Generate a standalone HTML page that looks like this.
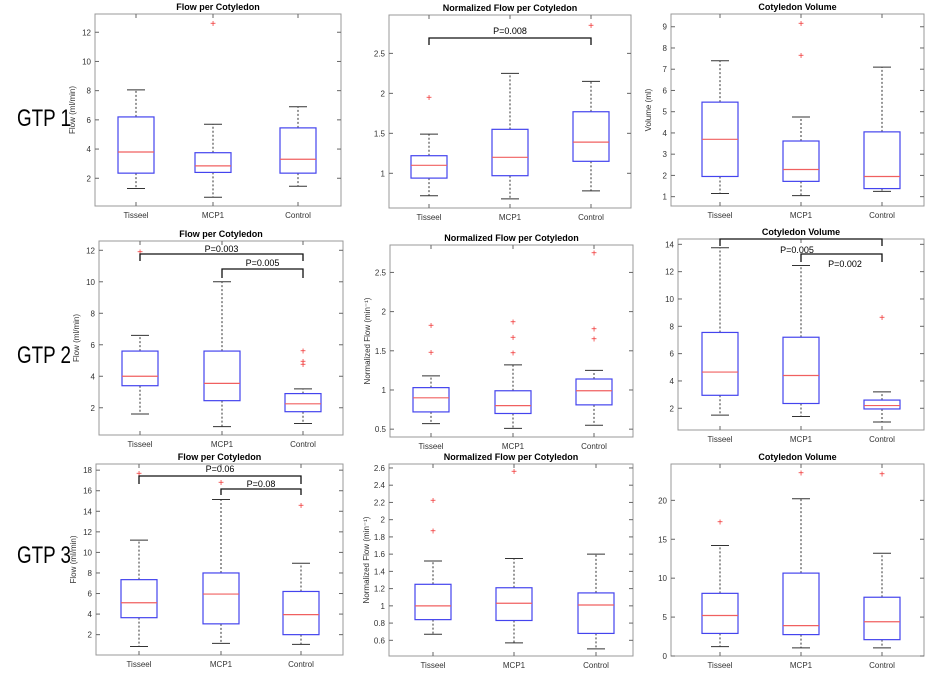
<!DOCTYPE html>
<html><head><meta charset="utf-8">
<style>
body{margin:0;background:#fff;}
svg{display:block;font-family:"Liberation Sans",sans-serif;}
</style></head>
<body>
<svg id="fig" width="936" height="678" viewBox="0 0 936 678" xmlns="http://www.w3.org/2000/svg">
<text x="17" y="126" font-size="24" textLength="54" lengthAdjust="spacingAndGlyphs">GTP 1</text>
<text x="17" y="363" font-size="24" textLength="54" lengthAdjust="spacingAndGlyphs">GTP 2</text>
<text x="17" y="563" font-size="24" textLength="54" lengthAdjust="spacingAndGlyphs">GTP 3</text>
</svg>
<script>
const categories=["Tisseel","MCP1","Control"];
const panelTitles=["Flow per Cotyledon","Normalized Flow per Cotyledon","Cotyledon Volume","Flow per Cotyledon","Normalized Flow per Cotyledon","Cotyledon Volume","Flow per Cotyledon","Normalized Flow per Cotyledon","Cotyledon Volume"];
const yTitles=["Flow (ml/min)","","Volume (ml)","Flow (ml/min)","Normalized Flow (min\u207B\u00B9)","","Flow (ml/min)","Normalized Flow (min\u207B\u00B9)",""];
const whiskerLo=[[1.3,0.7,1.45],[0.72,0.68,0.78],[1.15,1.05,1.25],[1.6,0.8,1.0],[0.57,0.51,0.55],[1.5,1.4,1.0],[0.85,1.15,1.05],[0.67,0.57,0.5],[1.2,1.05,1.05]];
const q1=[[2.35,2.4,2.35],[0.94,0.97,1.15],[1.95,1.72,1.38],[3.4,2.45,1.75],[0.72,0.7,0.81],[2.95,2.35,1.95],[3.65,3.05,2.0],[0.84,0.83,0.68],[2.9,2.75,2.1]];
const medians=[[3.8,2.85,3.3],[1.1,1.2,1.39],[3.7,2.28,1.95],[4.0,3.55,2.25],[0.9,0.8,0.99],[4.65,4.4,2.2],[5.1,5.95,3.95],[1.0,1.03,1.01],[5.2,3.9,4.4]];
const q3=[[6.2,3.75,5.45],[1.22,1.55,1.77],[5.45,3.62,4.05],[5.6,5.6,2.9],[1.03,0.99,1.14],[7.55,7.2,2.6],[7.35,8.0,6.2],[1.25,1.21,1.15],[8.05,10.65,7.55]];
const whiskerHi=[[8.05,5.7,6.9],[1.49,2.25,2.15],[7.4,4.75,7.1],[6.6,10,3.2],[1.18,1.32,1.25],[13.75,12.45,3.2],[11.2,15.15,8.95],[1.52,1.55,1.6],[14.2,20.2,13.2]];
const outliers=[[[],[12.6],[]],[[1.95],[],[2.85]],[[],[9.15,7.65],[]],[[11.9],[],[5.6,4.95,4.75]],[[1.82,1.48],[1.87,1.67,1.47],[2.75,1.78,1.65]],[[],[],[8.65]],[[17.7],[16.8],[14.55]],[[2.22,1.87],[2.56],[]],[[17.2],[23.5],[23.4]]];
const yTicks=[[2,4,6,8,10,12],[1,1.5,2,2.5],[1,2,3,4,5,6,7,8,9],[2,4,6,8,10,12],[0.5,1,1.5,2,2.5],[2,4,6,8,10,12,14],[2,4,6,8,10,12,14,16,18],[0.6,0.8,1,1.2,1.4,1.6,1.8,2,2.2,2.4,2.6],[0,5,10,15,20]];
const pLabels=[[],["P=0.008"],[],["P=0.003","P=0.005"],[],["P=0.005","P=0.002"],["P=0.06","P=0.08"],[],[]];
const pPairs=[[],[[0,2]],[],[[0,2],[1,2]],[],[[0,2],[1,2]],[[0,2],[1,2]],[],[]];
// layout (not data)
const frames=[[95,14,341,206],[389,15,631,208],[671,14,924,206],[99,241,343,435],[390,245,633,437],[678,239,924,430],[96,464,343,655],[389,464,633,656],[671,464,924,656]];
const domains=[[0.1,13.25],[0.566,2.98],[0.56,9.6],[0.27,12.59],[0.4,2.85],[0.41,14.39],[0.02,18.6],[0.418,2.646],[0,24.67]];
const boxX=[[136,213,298],[429,510,591],[720,801,882],[140,222,303],[431,513,594],[720,801,882],[139,221,301],[433,514,596],[720,801,882]];
const brackets=[[],[[38,45,31]],[],[[254,261,249],[269,278,263]],[],[[239,246,250],[254,262,264]],[[476,484,469],[489,495,484]],[],[]];
const NS="http://www.w3.org/2000/svg";
const svg=document.getElementById('fig');
function mk(tag,attrs,parent){const e=document.createElementNS(NS,tag);for(const k in attrs)e.setAttribute(k,attrs[k]);(parent||svg).insertBefore(e,null);return e;}
const layer=mk('g',{});
svg.insertBefore(layer,svg.firstChild);
for(let p=0;p<9;p++){
  const [x0,y0,x1,y1]=frames[p];const [d0,d1]=domains[p];
  const Y=v=>y1-(v-d0)/(d1-d0)*(y1-y0);
  const g=mk('g',{},layer);
  
  
  const fr=mk('rect',{x:x0,y:y0,width:x1-x0,height:y1-y0,fill:'none',stroke:'#999','stroke-width':1},g);
  
  
  const t=mk('text',{x:(x0+x1)/2,y:y0-4,'font-size':9,'font-weight':'bold','text-anchor':'middle'},g);
  t.textContent=panelTitles[p];
  
  
  if(yTitles[p]){const yt=mk('text',{x:0,y:0,'font-size':8,'text-anchor':'middle',fill:'#333',transform:`translate(${x0-20},${(y0+y1)/2}) rotate(-90)`},g);
    yt.textContent=yTitles[p];
    
    }
  yTicks[p].forEach(v=>{const y=Y(v);
    mk('line',{x1:x0,x2:x0+4,y1:y,y2:y,stroke:'#666'},g);mk('line',{x1:x1-4,x2:x1,y1:y,y2:y,stroke:'#666'},g);
    const tl=mk('text',{x:x0-4,y:y+3,'font-size':8,'text-anchor':'end',fill:'#333'},g);
    tl.textContent=String(v);
    
    });
  for(let c=0;c<3;c++){
    const cx=boxX[p][c],hw=18;
    mk('line',{x1:cx,x2:cx,y1:y0,y2:y0+4,stroke:'#666'},g);mk('line',{x1:cx,x2:cx,y1:y1-4,y2:y1,stroke:'#666'},g);
    const xl=mk('text',{x:cx,y:y1+12,'font-size':8,'text-anchor':'middle',fill:'#333'},g);
    xl.textContent=categories[c];
    
    
    mk('line',{x1:cx,x2:cx,y1:Y(q3[p][c]),y2:Y(whiskerHi[p][c]),stroke:'#333','stroke-dasharray':'2,2'},g);
    mk('line',{x1:cx,x2:cx,y1:Y(q1[p][c]),y2:Y(whiskerLo[p][c]),stroke:'#333','stroke-dasharray':'2,2'},g);
    mk('line',{x1:cx-9,x2:cx+9,y1:Y(whiskerHi[p][c]),y2:Y(whiskerHi[p][c]),stroke:'#333'},g);
    mk('line',{x1:cx-9,x2:cx+9,y1:Y(whiskerLo[p][c]),y2:Y(whiskerLo[p][c]),stroke:'#333'},g);
    const b=mk('rect',{x:cx-hw,y:Y(q3[p][c]),width:2*hw,height:Y(q1[p][c])-Y(q3[p][c]),fill:'#fff',stroke:'#4444ee','stroke-width':1.2},g);
    
    
    mk('line',{x1:cx-hw,x2:cx+hw,y1:Y(medians[p][c]),y2:Y(medians[p][c]),stroke:'#f06060','stroke-width':1.2},g);
    outliers[p][c].forEach(v=>{const o=mk('text',{x:cx,y:Y(v)+3.5,'font-size':10,'text-anchor':'middle',fill:'#f03030'},g);
      o.textContent='+';
      
      });
  }
  pPairs[p].forEach((pr,i)=>{const [ya,yb,yl]=brackets[p][i];const xa=boxX[p][pr[0]],xb=boxX[p][pr[1]];
    mk('path',{d:`M${xa},${yb} L${xa},${ya} L${xb},${ya} L${xb},${yb}`,fill:'none',stroke:'#111','stroke-width':1.3},g);
    const pl=mk('text',{x:(p===5?(i===0?797:845):(xa+xb)/2),y:yl+3,'font-size':9,'text-anchor':'middle'},g);
    pl.textContent=pLabels[p][i];
    
    });
}
</script>
</body></html>
